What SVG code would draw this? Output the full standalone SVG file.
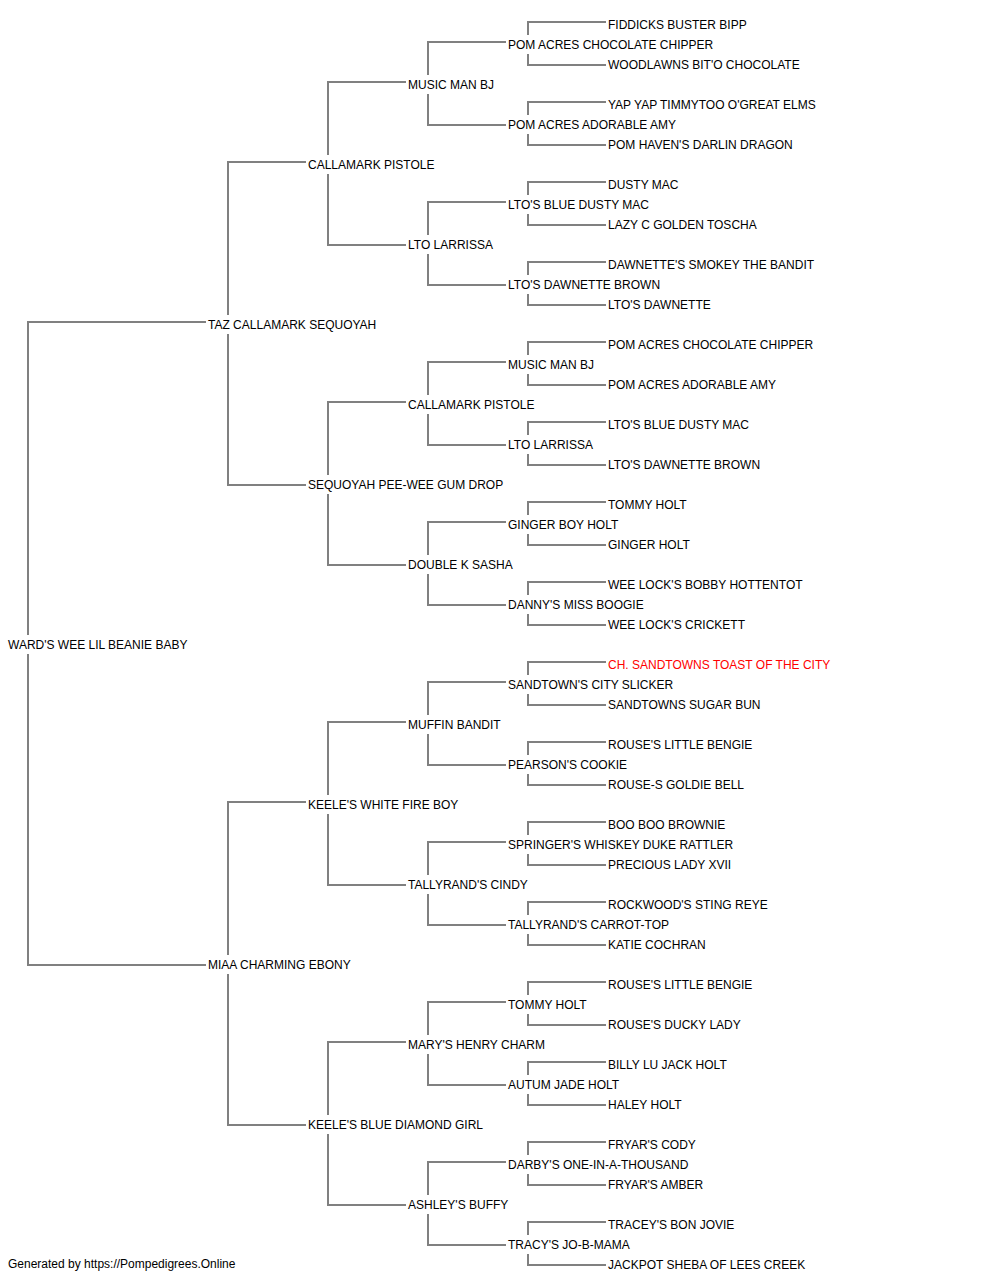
<svg xmlns="http://www.w3.org/2000/svg" width="1000" height="1280" viewBox="0 0 1000 1280">
<style>
text{font-family:"Liberation Sans",Arial,sans-serif;font-size:12px;fill:#000}
.ch{fill:#ff0000}
#connectors path{fill:none;stroke:#808080;stroke-width:2}
</style>
<rect width="1000" height="1280" fill="#fff"/>
<g id="connectors">
<path d="M206,322 H28 V635 M28,654 V965 H206"/>
<path d="M306,162 H228 V315 M228,334 V485 H306"/>
<path d="M306,802 H228 V955 M228,974 V1125 H306"/>
<path d="M406,82 H328 V155 M328,174 V245 H406"/>
<path d="M406,402 H328 V475 M328,494 V565 H406"/>
<path d="M406,722 H328 V795 M328,814 V885 H406"/>
<path d="M406,1042 H328 V1115 M328,1134 V1205 H406"/>
<path d="M506,42 H428 V75 M428,94 V125 H506"/>
<path d="M506,202 H428 V235 M428,254 V285 H506"/>
<path d="M506,362 H428 V395 M428,414 V445 H506"/>
<path d="M506,522 H428 V555 M428,574 V605 H506"/>
<path d="M506,682 H428 V715 M428,734 V765 H506"/>
<path d="M506,842 H428 V875 M428,894 V925 H506"/>
<path d="M506,1002 H428 V1035 M428,1054 V1085 H506"/>
<path d="M506,1162 H428 V1195 M428,1214 V1245 H506"/>
<path d="M606,22 H528 V35 M528,54 V65 H606"/>
<path d="M606,102 H528 V115 M528,134 V145 H606"/>
<path d="M606,182 H528 V195 M528,214 V225 H606"/>
<path d="M606,262 H528 V275 M528,294 V305 H606"/>
<path d="M606,342 H528 V355 M528,374 V385 H606"/>
<path d="M606,422 H528 V435 M528,454 V465 H606"/>
<path d="M606,502 H528 V515 M528,534 V545 H606"/>
<path d="M606,582 H528 V595 M528,614 V625 H606"/>
<path d="M606,662 H528 V675 M528,694 V705 H606"/>
<path d="M606,742 H528 V755 M528,774 V785 H606"/>
<path d="M606,822 H528 V835 M528,854 V865 H606"/>
<path d="M606,902 H528 V915 M528,934 V945 H606"/>
<path d="M606,982 H528 V995 M528,1014 V1025 H606"/>
<path d="M606,1062 H528 V1075 M528,1094 V1105 H606"/>
<path d="M606,1142 H528 V1155 M528,1174 V1185 H606"/>
<path d="M606,1222 H528 V1235 M528,1254 V1265 H606"/>
</g>
<g id="nodes" transform="translate(0,1)">
<g id="n1"><text x="8" y="648">WARD'S WEE LIL BEANIE BABY</text></g>
<g id="n2"><text x="208" y="328">TAZ CALLAMARK SEQUOYAH</text></g>
<g id="n3"><text x="208" y="968">MIAA CHARMING EBONY</text></g>
<g id="n4"><text x="308" y="168">CALLAMARK PISTOLE</text></g>
<g id="n5"><text x="308" y="488">SEQUOYAH PEE-WEE GUM DROP</text></g>
<g id="n6"><text x="308" y="808">KEELE'S WHITE FIRE BOY</text></g>
<g id="n7"><text x="308" y="1128">KEELE'S BLUE DIAMOND GIRL</text></g>
<g id="n8"><text x="408" y="88">MUSIC MAN BJ</text></g>
<g id="n9"><text x="408" y="248">LTO LARRISSA</text></g>
<g id="n10"><text x="408" y="408">CALLAMARK PISTOLE</text></g>
<g id="n11"><text x="408" y="568">DOUBLE K SASHA</text></g>
<g id="n12"><text x="408" y="728">MUFFIN BANDIT</text></g>
<g id="n13"><text x="408" y="888">TALLYRAND'S CINDY</text></g>
<g id="n14"><text x="408" y="1048">MARY'S HENRY CHARM</text></g>
<g id="n15"><text x="408" y="1208">ASHLEY'S BUFFY</text></g>
<g id="n16"><text x="508" y="48">POM ACRES CHOCOLATE CHIPPER</text></g>
<g id="n17"><text x="508" y="128">POM ACRES ADORABLE AMY</text></g>
<g id="n18"><text x="508" y="208">LTO'S BLUE DUSTY MAC</text></g>
<g id="n19"><text x="508" y="288">LTO'S DAWNETTE BROWN</text></g>
<g id="n20"><text x="508" y="368">MUSIC MAN BJ</text></g>
<g id="n21"><text x="508" y="448">LTO LARRISSA</text></g>
<g id="n22"><text x="508" y="528">GINGER BOY HOLT</text></g>
<g id="n23"><text x="508" y="608">DANNY'S MISS BOOGIE</text></g>
<g id="n24"><text x="508" y="688">SANDTOWN'S CITY SLICKER</text></g>
<g id="n25"><text x="508" y="768">PEARSON'S COOKIE</text></g>
<g id="n26"><text x="508" y="848">SPRINGER'S WHISKEY DUKE RATTLER</text></g>
<g id="n27"><text x="508" y="928">TALLYRAND'S CARROT-TOP</text></g>
<g id="n28"><text x="508" y="1008">TOMMY HOLT</text></g>
<g id="n29"><text x="508" y="1088">AUTUM JADE HOLT</text></g>
<g id="n30"><text x="508" y="1168">DARBY'S ONE-IN-A-THOUSAND</text></g>
<g id="n31"><text x="508" y="1248">TRACY'S JO-B-MAMA</text></g>
<g id="n32"><text x="608" y="28">FIDDICKS BUSTER BIPP</text></g>
<g id="n33"><text x="608" y="68">WOODLAWNS BIT'O CHOCOLATE</text></g>
<g id="n34"><text x="608" y="108">YAP YAP TIMMYTOO O'GREAT ELMS</text></g>
<g id="n35"><text x="608" y="148">POM HAVEN'S DARLIN DRAGON</text></g>
<g id="n36"><text x="608" y="188">DUSTY MAC</text></g>
<g id="n37"><text x="608" y="228">LAZY C GOLDEN TOSCHA</text></g>
<g id="n38"><text x="608" y="268">DAWNETTE'S SMOKEY THE BANDIT</text></g>
<g id="n39"><text x="608" y="308">LTO'S DAWNETTE</text></g>
<g id="n40"><text x="608" y="348">POM ACRES CHOCOLATE CHIPPER</text></g>
<g id="n41"><text x="608" y="388">POM ACRES ADORABLE AMY</text></g>
<g id="n42"><text x="608" y="428">LTO'S BLUE DUSTY MAC</text></g>
<g id="n43"><text x="608" y="468">LTO'S DAWNETTE BROWN</text></g>
<g id="n44"><text x="608" y="508">TOMMY HOLT</text></g>
<g id="n45"><text x="608" y="548">GINGER HOLT</text></g>
<g id="n46"><text x="608" y="588">WEE LOCK'S BOBBY HOTTENTOT</text></g>
<g id="n47"><text x="608" y="628">WEE LOCK'S CRICKETT</text></g>
<g id="n48"><text class="ch" x="608" y="668">CH. SANDTOWNS TOAST OF THE CITY</text></g>
<g id="n49"><text x="608" y="708">SANDTOWNS SUGAR BUN</text></g>
<g id="n50"><text x="608" y="748">ROUSE'S LITTLE BENGIE</text></g>
<g id="n51"><text x="608" y="788">ROUSE-S GOLDIE BELL</text></g>
<g id="n52"><text x="608" y="828">BOO BOO BROWNIE</text></g>
<g id="n53"><text x="608" y="868">PRECIOUS LADY XVII</text></g>
<g id="n54"><text x="608" y="908">ROCKWOOD'S STING REYE</text></g>
<g id="n55"><text x="608" y="948">KATIE COCHRAN</text></g>
<g id="n56"><text x="608" y="988">ROUSE'S LITTLE BENGIE</text></g>
<g id="n57"><text x="608" y="1028">ROUSE'S DUCKY LADY</text></g>
<g id="n58"><text x="608" y="1068">BILLY LU JACK HOLT</text></g>
<g id="n59"><text x="608" y="1108">HALEY HOLT</text></g>
<g id="n60"><text x="608" y="1148">FRYAR'S CODY</text></g>
<g id="n61"><text x="608" y="1188">FRYAR'S AMBER</text></g>
<g id="n62"><text x="608" y="1228">TRACEY'S BON JOVIE</text></g>
<g id="n63"><text x="608" y="1268">JACKPOT SHEBA OF LEES CREEK</text></g>
</g>
<g id="footer"><text x="8" y="1268">Generated by https://Pompedigrees.Online</text></g>
</svg>
